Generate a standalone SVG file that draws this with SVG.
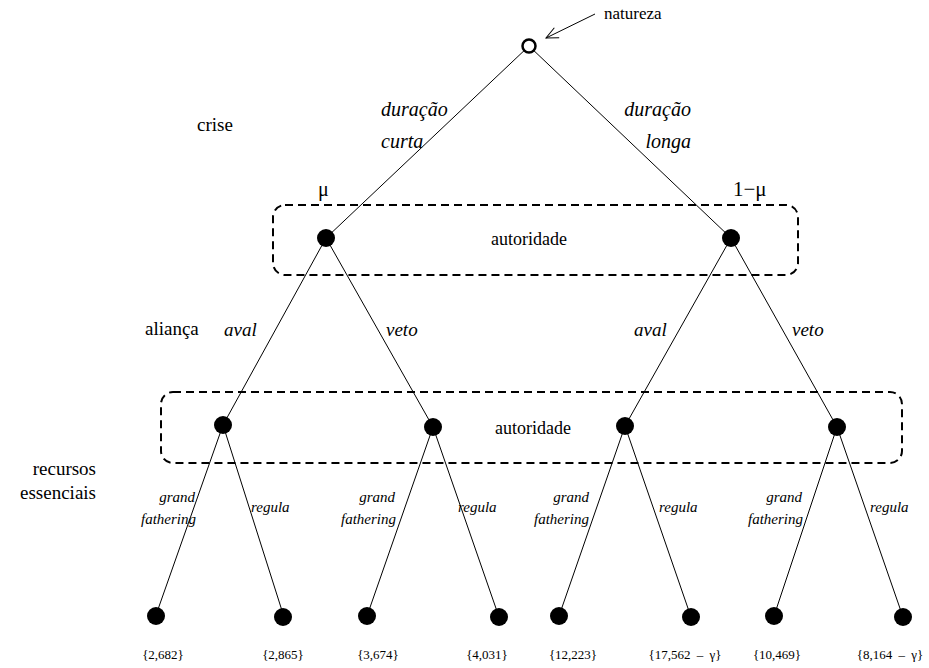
<svg xmlns="http://www.w3.org/2000/svg" width="929" height="668" viewBox="0 0 929 668" font-family="'Liberation Serif', 'Times New Roman', Times, serif">
<style>
text{font-family:'Liberation Serif','Times New Roman',Times,serif;fill:#000}
.lab{font-size:19px}
.it{font-style:italic;font-size:20px}
.it2{font-style:italic;font-size:19px}
.sm{font-style:italic;font-size:15px}
.auto{font-size:18px}
.pay{font-size:13px}
.gam{word-spacing:3px}
.edge{stroke:#000;stroke-width:1;fill:none}
.box{stroke:#000;stroke-width:2;stroke-dasharray:8 5;fill:none}
.dot{fill:#000}
</style>
<defs>
<marker id="ah" viewBox="0 0 14 14" refX="13" refY="7" markerWidth="14" markerHeight="14" orient="auto" markerUnits="userSpaceOnUse">
<path d="M1,1.5 L13,7 L1,12.5" fill="none" stroke="#000" stroke-width="1"/>
</marker>
</defs>
<rect width="929" height="668" fill="#fff"/>
<g id="info-sets">
<rect class="box" x="273" y="205" width="525" height="70" rx="12"/>
<rect class="box" x="161" y="392" width="741" height="71" rx="12"/>
</g>
<g id="connectors">
<line class="edge" x1="529" y1="46" x2="326" y2="238"/>
<line class="edge" x1="529" y1="46" x2="731" y2="238"/>
<line class="edge" x1="326" y1="238" x2="223" y2="425"/>
<line class="edge" x1="326" y1="238" x2="433" y2="427"/>
<line class="edge" x1="731" y1="238" x2="625" y2="426"/>
<line class="edge" x1="731" y1="238" x2="837" y2="427"/>
<line class="edge" x1="223" y1="425" x2="156" y2="615"/>
<line class="edge" x1="223" y1="425" x2="284" y2="617"/>
<line class="edge" x1="433" y1="427" x2="367" y2="616"/>
<line class="edge" x1="433" y1="427" x2="499" y2="617"/>
<line class="edge" x1="625" y1="426" x2="559" y2="616"/>
<line class="edge" x1="625" y1="426" x2="691" y2="617"/>
<line class="edge" x1="837" y1="427" x2="774" y2="616"/>
<line class="edge" x1="837" y1="427" x2="903" y2="617"/>
<line class="edge" x1="595" y1="14" x2="546" y2="38" marker-end="url(#ah)"/>
</g>
<g id="root"><circle cx="529" cy="46" r="6.5" fill="#fff" stroke="#000" stroke-width="2.5"/></g>
<g id="natureza"><text x="604" y="19" style="font-size:17px">natureza</text></g>
<g id="a1"><circle class="dot" cx="326" cy="238" r="9"/></g>
<g id="a2"><circle class="dot" cx="731" cy="238" r="9"/></g>
<g id="b1"><circle class="dot" cx="223" cy="425" r="9"/></g>
<g id="b2"><circle class="dot" cx="433" cy="427" r="9"/></g>
<g id="b3"><circle class="dot" cx="625" cy="426" r="9"/></g>
<g id="b4"><circle class="dot" cx="837" cy="427" r="9"/></g>
<g id="l1"><circle class="dot" cx="156" cy="616" r="9"/><text x="163" y="659" class="pay" text-anchor="middle">{2,682}</text></g>
<g id="l2"><circle class="dot" cx="283" cy="617" r="9"/><text x="283" y="659" class="pay" text-anchor="middle">{2,865}</text></g>
<g id="l3"><circle class="dot" cx="367" cy="616" r="9"/><text x="378" y="659" class="pay" text-anchor="middle">{3,674}</text></g>
<g id="l4"><circle class="dot" cx="499" cy="617" r="9"/><text x="487" y="659" class="pay" text-anchor="middle">{4,031}</text></g>
<g id="l5"><circle class="dot" cx="559" cy="616" r="9"/><text x="573" y="659" class="pay" text-anchor="middle">{12,223}</text></g>
<g id="l6"><circle class="dot" cx="691" cy="617" r="9"/><text x="685" y="659" class="pay gam" text-anchor="middle">{17,562 – γ}</text></g>
<g id="l7"><circle class="dot" cx="774" cy="616" r="9"/><text x="777" y="659" class="pay" text-anchor="middle">{10,469}</text></g>
<g id="l8"><circle class="dot" cx="903" cy="617" r="9"/><text x="890" y="659" class="pay gam" text-anchor="middle">{8,164 – γ}</text></g>
<g id="labels">
<text x="197" y="131" class="lab">crise</text>
<text x="145" y="335" class="lab">aliança</text>
<text x="96" y="475" class="lab" text-anchor="end">recursos</text>
<text x="96" y="499" class="lab" text-anchor="end">essenciais</text>
<text x="381" y="116" class="it">duração</text>
<text x="381" y="148" class="it">curta</text>
<text x="691" y="116" class="it" text-anchor="end">duração</text>
<text x="691" y="148" class="it" text-anchor="end">longa</text>
<text x="318" y="196" style="font-size:20px">μ</text>
<text x="733" y="196" style="font-size:21px">1−μ</text>
<text x="529" y="245" class="auto" text-anchor="middle">autoridade</text>
<text x="533" y="434" class="auto" text-anchor="middle">autoridade</text>
<text x="224" y="336" class="it2">aval</text>
<text x="386" y="336" class="it2">veto</text>
<text x="634" y="336" class="it2">aval</text>
<text x="792" y="336" class="it2">veto</text>
<text x="195" y="502" class="sm" text-anchor="end">grand</text>
<text x="196" y="524" class="sm" text-anchor="end">fathering</text>
<text x="251" y="512" class="sm">regula</text>
<text x="395" y="502" class="sm" text-anchor="end">grand</text>
<text x="396" y="524" class="sm" text-anchor="end">fathering</text>
<text x="458" y="512" class="sm">regula</text>
<text x="589" y="502" class="sm" text-anchor="end">grand</text>
<text x="589" y="524" class="sm" text-anchor="end">fathering</text>
<text x="659" y="512" class="sm">regula</text>
<text x="802" y="502" class="sm" text-anchor="end">grand</text>
<text x="803" y="524" class="sm" text-anchor="end">fathering</text>
<text x="870" y="512" class="sm">regula</text>
</g>
</svg>
